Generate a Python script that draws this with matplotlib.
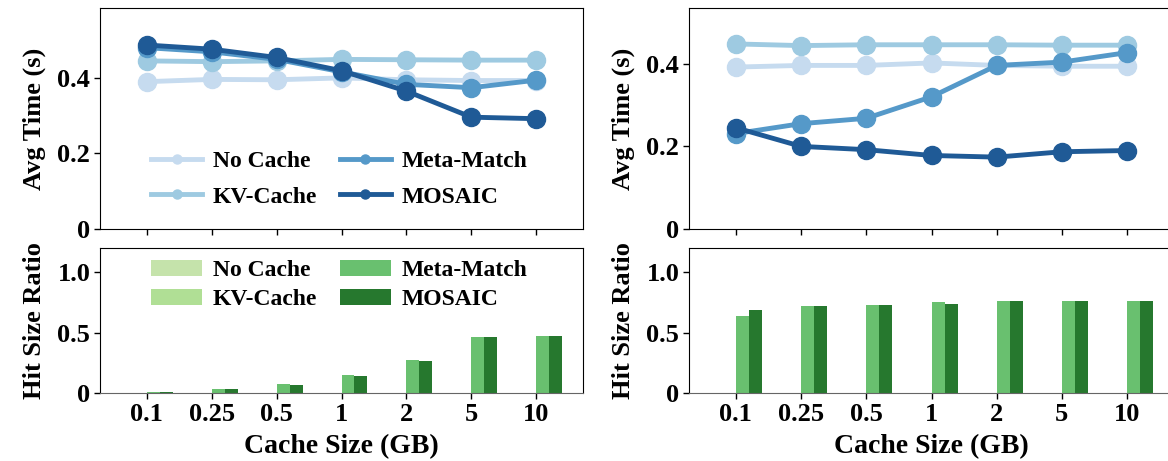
import matplotlib
matplotlib.use("Agg")
import matplotlib.pyplot as plt
import numpy as np
from matplotlib.ticker import FuncFormatter

plt.rcParams['font.family'] = ['Liberation Serif', 'DejaVu Serif']
plt.rcParams['font.weight'] = 'bold'
plt.rcParams['axes.labelweight'] = 'bold'

cache_sizes = ['0.1', '0.25', '0.5', '1', '2', '5', '10']
methods = ['No Cache', 'KV-Cache', 'Meta-Match', 'MOSAIC']

# Avg time (s), left workload
time_left_nocache = [0.390, 0.396, 0.395, 0.400, 0.395, 0.393, 0.393]
time_left_kv = [0.445, 0.443, 0.445, 0.449, 0.448, 0.447, 0.447]
time_left_meta = [0.480, 0.469, 0.449, 0.416, 0.383, 0.374, 0.394]
time_left_mosaic = [0.487, 0.476, 0.454, 0.419, 0.365, 0.296, 0.292]

# Avg time (s), right workload
time_right_nocache = [0.392, 0.396, 0.396, 0.402, 0.396, 0.394, 0.394]
time_right_kv = [0.448, 0.444, 0.446, 0.446, 0.446, 0.445, 0.445]
time_right_meta = [0.231, 0.255, 0.268, 0.320, 0.396, 0.404, 0.427]
time_right_mosaic = [0.245, 0.200, 0.192, 0.178, 0.174, 0.187, 0.190]

# Hit size ratio, left workload
hit_left_nocache = [0, 0, 0, 0, 0, 0, 0]
hit_left_kv = [0, 0, 0, 0, 0, 0, 0]
hit_left_meta = [0.010, 0.030, 0.071, 0.150, 0.270, 0.460, 0.470]
hit_left_mosaic = [0.010, 0.030, 0.070, 0.142, 0.262, 0.460, 0.470]

# Hit size ratio, right workload
hit_right_nocache = [0, 0, 0, 0, 0, 0, 0]
hit_right_kv = [0, 0, 0, 0, 0, 0, 0]
hit_right_meta = [0.640, 0.722, 0.730, 0.750, 0.760, 0.760, 0.760]
hit_right_mosaic = [0.690, 0.720, 0.730, 0.740, 0.760, 0.760, 0.760]

blues = ['#c6dbef', '#9ecae1', '#5599c9', '#1f5a96']
greens = ['#c5e3ab', '#b0df95', '#69c06f', '#26782e']

fig = plt.figure(figsize=(11.68, 4.61), dpi=100)
W, H = 1168.0, 461.0

def rect(x0, x1, ytop, ybot):
    return [x0 / W, 1 - ybot / H, (x1 - x0) / W, (ybot - ytop) / H]

ax_tl = fig.add_axes(rect(100, 583, 8, 229))
ax_tr = fig.add_axes(rect(689, 1174, 8, 229))
ax_bl = fig.add_axes(rect(100, 583, 248, 393))
ax_br = fig.add_axes(rect(689, 1174, 248, 393))

x = np.arange(len(cache_sizes))
fmt = FuncFormatter(lambda v, p: '0' if abs(v) < 1e-9 else f'{v:.1f}')

LEG = dict(ncol=2, frameon=False, fontsize=17, handlelength=2.15,
           columnspacing=0.97, handletextpad=0.45)

def draw_time(ax, series, ytop, legend):
    for i, (name, vals) in enumerate(zip(methods, series)):
        ax.plot(x, vals, '-o', color=blues[i], lw=3.5, ms=13, label=name,
                zorder=2 + i)
    ax.set_ylim(0, ytop)
    ax.set_yticks([0, 0.2, 0.4])
    ax.yaxis.set_major_formatter(fmt)
    ax.set_ylabel('Avg Time (s)', fontsize=19)
    ax.set_xticks(x)
    ax.set_xticklabels([])
    if legend:
        ax.legend(loc='lower left', bbox_to_anchor=(0.062, 0.0),
                  markerscale=0.5, labelspacing=0.6, **LEG)

def draw_hit(ax, series, legend):
    w = 0.2
    offs = [-1.5 * w, -0.5 * w, 0.5 * w, 1.5 * w]
    for i, (name, vals) in enumerate(zip(methods, series)):
        ax.bar(x + offs[i], vals, width=w, color=greens[i], label=name,
               zorder=2)
    ax.set_ylim(0, 1.2)
    ax.set_yticks([0, 0.5, 1.0])
    ax.yaxis.set_major_formatter(fmt)
    ax.set_ylabel('Hit Size Ratio', fontsize=19)
    ax.set_xticks(x)
    ax.set_xticklabels(cache_sizes)
    ax.set_xlabel('Cache Size (GB)', fontsize=20, labelpad=6)
    ax.spines['bottom'].set_color('#666666')
    if legend:
        ax.legend(loc='upper left', bbox_to_anchor=(0.062, 1.065),
                  labelspacing=0.32, **LEG)

draw_time(ax_tl, [time_left_nocache, time_left_kv, time_left_meta,
                  time_left_mosaic], 0.585, True)
draw_time(ax_tr, [time_right_nocache, time_right_kv, time_right_meta,
                  time_right_mosaic], 0.535, False)
draw_hit(ax_bl, [hit_left_nocache, hit_left_kv, hit_left_meta,
                 hit_left_mosaic], True)
draw_hit(ax_br, [hit_right_nocache, hit_right_kv, hit_right_meta,
                 hit_right_mosaic], False)

for ax in [ax_tl, ax_tr, ax_bl, ax_br]:
    ax.set_xlim(-0.72, 6.72)
    ax.tick_params(axis='both', labelsize=19, length=4, width=1, pad=3)
    for lab in ax.get_xticklabels() + ax.get_yticklabels():
        lab.set_fontweight('bold')
    ax.yaxis.set_label_coords(-0.112, 0.5)

fig.savefig('out.png', dpi=100)
